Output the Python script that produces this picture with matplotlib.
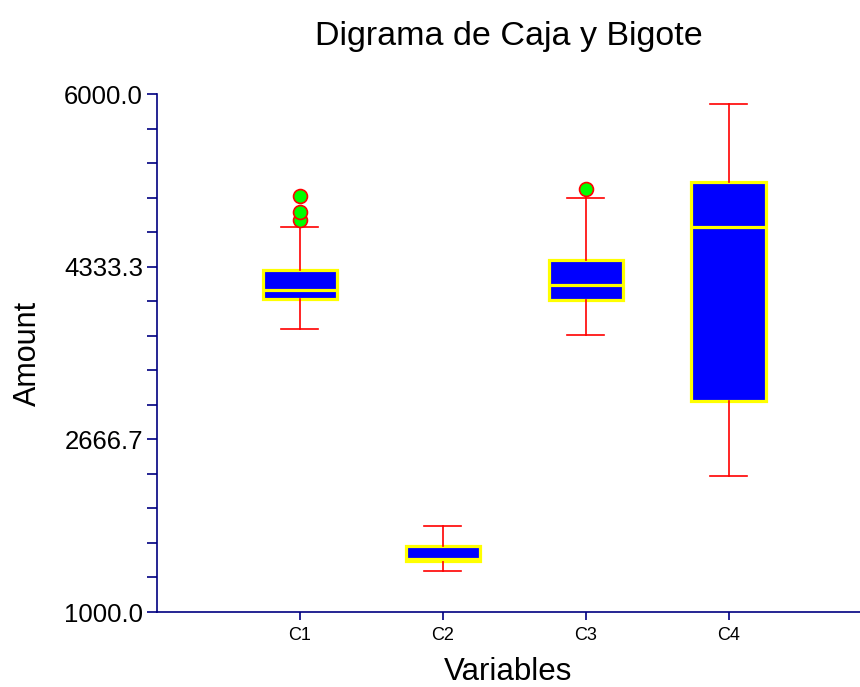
import matplotlib
matplotlib.use("Agg")
import matplotlib.pyplot as plt
from matplotlib.ticker import FixedLocator, MultipleLocator

plt.rcParams['font.family'] = ['Liberation Sans', 'DejaVu Sans']

# box statistics
categories = ["C1", "C2", "C3", "C4"]
whislo = [3732, 1396, 3674, 2313]
q1 = [4021, 1492, 4012, 3037]
med = [4108, 1515, 4157, 4719]
q3 = [4301, 1637, 4398, 5154]
whishi = [4719, 1833, 4996, 5904]
fliers = [[4781, 4858, 5019], [], [5080], []]

y_ticks = [1000.0, 2666.7, 4333.3, 6000.0]

axis_col = '#000080'

stats = []
for i in range(len(categories)):
    stats.append({
        'label': categories[i],
        'whislo': whislo[i], 'q1': q1[i], 'med': med[i],
        'q3': q3[i], 'whishi': whishi[i], 'fliers': fliers[i],
    })

fig = plt.figure(figsize=(8.6, 6.87), dpi=100)
ax = fig.add_axes([157 / 860, 1 - 612 / 687, 1 - 157 / 860, (612 - 94) / 687])

ax.bxp(
    stats,
    positions=[1, 2, 3, 4],
    widths=0.52,
    patch_artist=True,
    boxprops=dict(facecolor='#0000FF', edgecolor='#FFFF00', linewidth=2.3),
    medianprops=dict(color='#FFFF00', linewidth=2.3),
    whiskerprops=dict(color='#FF0000', linewidth=1.2),
    capprops=dict(color='#FF0000', linewidth=1.2),
    flierprops=dict(marker='o', markerfacecolor='#00FF00', markeredgecolor='#FF0000',
                    markersize=10, markeredgewidth=1.2, linestyle='none'),
    zorder=3,
)

ax.set_xlim(0, 4.92)
ax.set_ylim(1000, 6000)
ax.yaxis.set_major_locator(FixedLocator(y_ticks))
ax.set_yticklabels([f"{v:.1f}" for v in y_ticks])
ax.yaxis.set_minor_locator(MultipleLocator(5000 / 15))

for s in ['top', 'right']:
    ax.spines[s].set_visible(False)
for s in ['left', 'bottom']:
    ax.spines[s].set_color(axis_col)
    ax.spines[s].set_linewidth(1.2)

ax.tick_params(axis='y', which='major', direction='out', length=7, width=1.2,
               color=axis_col, labelsize=18.5, pad=3)
ax.tick_params(axis='y', which='minor', direction='out', length=7, width=1.2,
               color=axis_col)
ax.tick_params(axis='x', which='major', direction='out', length=6, width=1.2,
               color=axis_col, labelsize=13, pad=5)

ax.set_xlabel("Variables", fontsize=22.5, labelpad=9)
ax.set_ylabel("Amount", fontsize=22, labelpad=15)
ax.set_title("Digrama de Caja y Bigote", fontsize=24.5, pad=35)

fig.savefig("out.png", dpi=100)
